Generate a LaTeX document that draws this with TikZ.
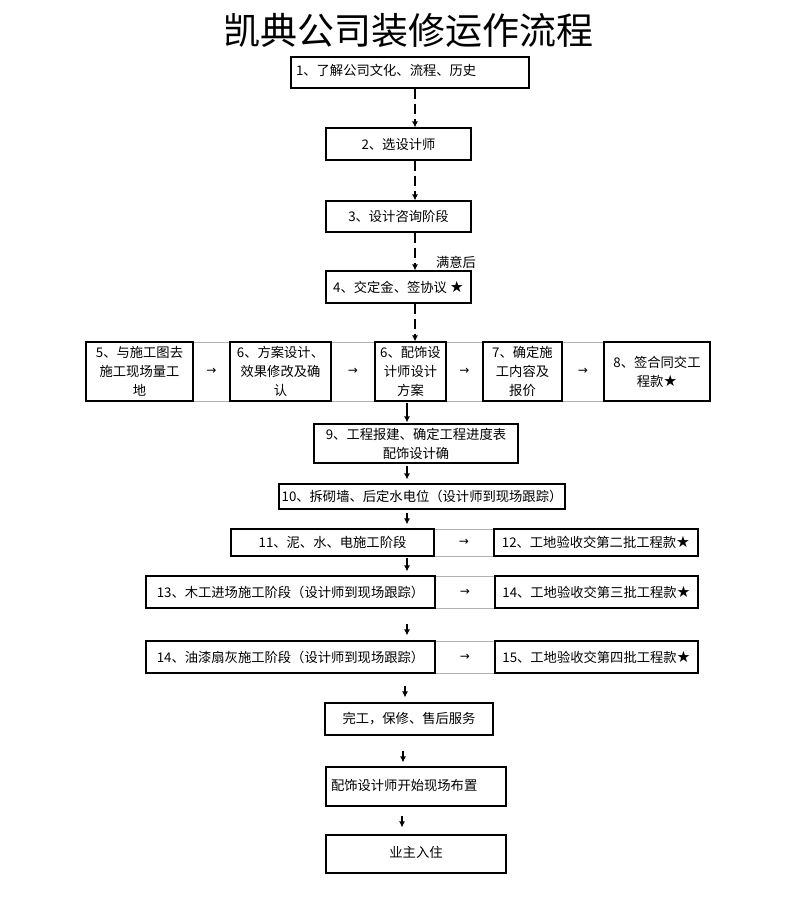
\documentclass[tikz,border=0pt]{standalone}
\usepackage{fontspec}
\setmainfont{Noto Sans CJK SC}
\newfontfamily\symf{DejaVu Sans}
\usetikzlibrary{arrows.meta}
\newcommand\xstar{{\symf\fontsize{15.5}{15.5}\selectfont ★}}
\begin{document}
\begin{tikzpicture}[x=1pt,y=-1pt,
  box/.style={draw, line width=1.1pt, inner sep=0pt, align=center, font=\fontsize{13.3}{19}\selectfont},
  gapcell/.style={draw=black!30, line width=0.8pt, inner sep=0pt, font=\symf\fontsize{12}{12}\selectfont},
  darr/.style={-{Latex[length=6pt,width=6pt]}, line width=2pt, dash pattern=on 10pt off 5pt},
  sarr/.style={-{Latex[length=6pt,width=6pt]}, line width=2pt},
  lbl/.style={inner sep=0pt, font=\fontsize{13.3}{16}\selectfont}
]
\useasboundingbox (0,0) rectangle (795,899);

\node[inner sep=0pt, font=\fontsize{37}{37}\selectfont] (title) at (408,30) {凯典公司装修运作流程};

\coordinate (xa) at (415,0);
\coordinate (xb) at (407,0);
\coordinate (xc) at (405,0);
\coordinate (xd) at (403,0);
\coordinate (xe) at (402,0);

\node[box, minimum width=238pt, minimum height=31pt, text width=228pt, align=left] (b1) at (410,72.5) {\raisebox{5pt}{1、了解公司文化、流程、历史}};
\node[box, minimum width=145pt, minimum height=32pt] (b2) at (398.5,144) {2、选设计师};
\node[box, minimum width=145pt, minimum height=31pt] (b3) at (398.5,216.5) {3、设计咨询阶段};
\node[box, minimum width=145pt, minimum height=32pt] (b4) at (398.5,287) {4、交定金、签协议 \xstar};
\node[lbl] (ok) at (456,262) {满意后};

% row 5-8
\node[gapcell, minimum width=37pt, minimum height=59pt] (g1) at (211.5,371.5) {→};
\node[gapcell, minimum width=44pt, minimum height=59pt] (g2) at (353,371.5) {→};
\node[gapcell, minimum width=37pt, minimum height=59pt] (g3) at (464.5,371.5) {→};
\node[gapcell, minimum width=42pt, minimum height=59pt] (g4) at (583,371.5) {→};
\node[box, minimum width=107pt, minimum height=59pt] (b5) at (139.5,371.5) {5、与施工图去\\施工现场量工\\地};
\node[box, minimum width=101pt, minimum height=59pt] (b6) at (280.5,371.5) {6、方案设计、\\效果修改及确\\认};
\node[box, minimum width=71pt, minimum height=59pt] (b6b) at (410.5,371.5) {6、配饰设\\计师设计\\方案};
\node[box, minimum width=79pt, minimum height=59pt] (b7) at (522.5,371.5) {7、确定施\\工内容及\\报价};
\node[box, minimum width=106pt, minimum height=59pt] (b8) at (657,371.5) {8、签合同交工\\程款\xstar};

\node[box, minimum width=204pt, minimum height=39pt] (b9) at (416,443.5) {9、工程报建、确定工程进度表\\配饰设计确};
\node[box, minimum width=286pt, minimum height=25pt] (b10) at (422,496.5) {10、拆砌墙、后定水电位（设计师到现场跟踪）};

% row 11/12
\node[gapcell, minimum width=60pt, minimum height=27pt] (g11) at (464,542.5) {→};
\node[box, minimum width=203pt, minimum height=27pt] (b11) at (332.5,542.5) {11、泥、水、电施工阶段};
\node[box, minimum width=204pt, minimum height=27pt] (b12) at (596,542.5) {12、工地验收交第二批工程款\xstar};

% row 13/14
\node[gapcell, minimum width=60pt, minimum height=32pt] (g13) at (465,592) {→};
\node[box, minimum width=289pt, minimum height=32pt] (b13) at (290.5,592) {13、木工进场施工阶段（设计师到现场跟踪）};
\node[box, minimum width=203pt, minimum height=32pt] (b14) at (596.5,592) {14、工地验收交第三批工程款\xstar};

% row 14/15
\node[gapcell, minimum width=60pt, minimum height=32pt] (g15) at (465,657) {→};
\node[box, minimum width=289pt, minimum height=32pt] (b14b) at (290.5,657) {14、油漆扇灰施工阶段（设计师到现场跟踪）};
\node[box, minimum width=203pt, minimum height=32pt] (b15) at (596.5,657) {15、工地验收交第四批工程款\xstar};

\node[box, minimum width=168pt, minimum height=32pt] (b16) at (409,719) {完工，保修、售后服务};
\node[box, minimum width=180pt, minimum height=39pt, text width=170pt, align=left] (b17) at (416,786.5) {\raisebox{3pt}{配饰设计师开始现场布置}};
\node[box, minimum width=180pt, minimum height=38pt] (b18) at (416,854) {\raisebox{4pt}{业主入住}};

% connectors
\draw[darr] (b1.south -| xa) -- (b2.north -| xa);
\draw[darr] (b2.south -| xa) -- (b3.north -| xa);
\draw[darr] (b3.south -| xa) -- (b4.north -| xa);
\draw[darr] (b4.south -| xa) -- (b6b.north -| xa);
\draw[sarr, shorten <=1pt, shorten >=1pt] (b6b.south -| xb) -- (b9.north -| xb);
\draw[sarr, shorten <=2pt, shorten >=4pt] (b9.south -| xb) -- (b10.north -| xb);
\draw[sarr, shorten <=3pt, shorten >=4pt] (b10.south -| xb) -- (b11.north -| xb);
\draw[sarr, shorten <=1pt, shorten >=4pt] (b11.south -| xb) -- (b13.north -| xb);
\draw[sarr, shorten <=15pt, shorten >=5pt] (b13.south -| xb) -- (b14b.north -| xb);
\draw[sarr, shorten <=12pt, shorten >=5pt] (b14b.south -| xc) -- (b16.north -| xc);
\draw[sarr, shorten <=15pt, shorten >=4pt] (b16.south -| xd) -- (b17.north -| xd);
\draw[sarr, shorten <=9pt, shorten >=7pt] (b17.south -| xe) -- (b18.north -| xe);
\end{tikzpicture}
\end{document}
